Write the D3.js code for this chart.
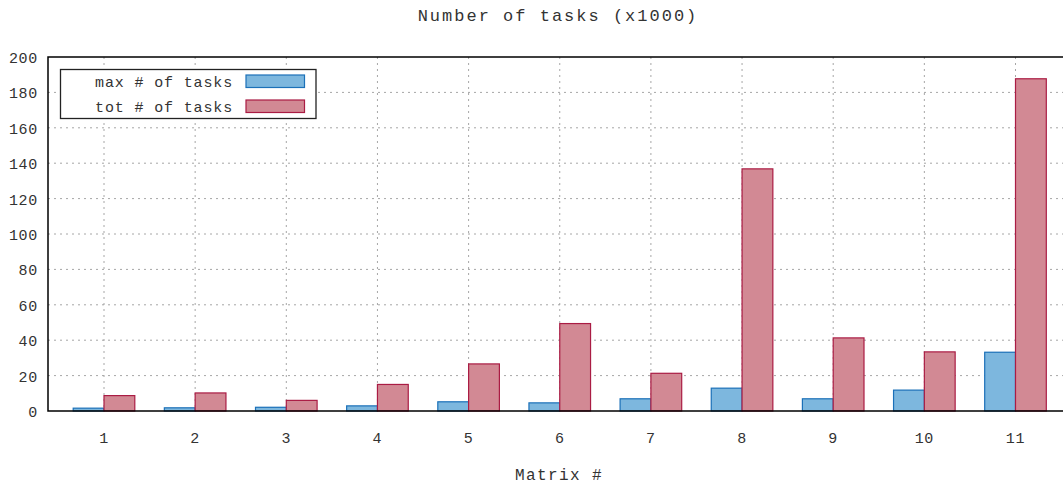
<!DOCTYPE html>
<html>
<head>
<meta charset="utf-8">
<script src="https://cdn.jsdelivr.net/npm/d3@7"></script>
<style>
  body { margin: 0; background: #fff; }
  svg text { font-family: "Liberation Mono", "Courier New", monospace; fill: #333; }
</style>
</head>
<body>
<div id="chart"></div>
<script>
const matrices = [1, 2, 3, 4, 5, 6, 7, 8, 9, 10, 11];
const maxTasks = [1.6, 1.8, 2.1, 2.9, 5.2, 4.6, 6.9, 12.9, 6.9, 11.8, 33.2];
const totTasks = [8.7, 10.2, 6.0, 15.0, 26.6, 49.4, 21.3, 136.8, 41.3, 33.4, 187.7];
const yTicks = [0, 20, 40, 60, 80, 100, 120, 140, 160, 180, 200];
const seriesNames = ["max # of tasks", "tot # of tasks"];

const W = 1063, H = 486;
const plotLeft = 48, plotTop = 57, plotBottom = 411;

const COLORS = {
  blue: { fill: "#7db7de", stroke: "#1b70b8" },
  red:  { fill: "#d28994", stroke: "#aa1c44" }
};

const svg = d3.select("#chart").append("svg")
  .attr("width", W).attr("height", H);

const x = d3.scaleLinear().domain([1, 11]).range([104, 1015.5]);
const y = d3.scaleLinear().domain([0, 200]).range([plotBottom, plotTop]);
const barW = 30.8;

// grid
const grid = svg.append("g").attr("stroke", "#a6a6a6").attr("stroke-width", 1)
  .attr("stroke-dasharray", "2,4");
grid.selectAll("line.h").data(yTicks.filter(d => d > 0 && d < 200)).enter().append("line")
  .attr("x1", plotLeft).attr("x2", W).attr("y1", d => y(d)).attr("y2", d => y(d));
grid.selectAll("line.v").data(matrices).enter().append("line")
  .attr("x1", d => x(d)).attr("x2", d => x(d)).attr("y1", plotTop).attr("y2", plotBottom);

// bars
const bars = svg.append("g");
bars.selectAll("rect.max").data(matrices).enter().append("rect")
  .attr("x", d => x(d) - barW).attr("width", barW)
  .attr("y", (d, i) => y(maxTasks[i])).attr("height", (d, i) => y(0) - y(maxTasks[i]))
  .attr("fill", COLORS.blue.fill).attr("stroke", COLORS.blue.stroke).attr("stroke-width", 1.2);
bars.selectAll("rect.tot").data(matrices).enter().append("rect")
  .attr("x", d => x(d)).attr("width", barW)
  .attr("y", (d, i) => y(totTasks[i])).attr("height", (d, i) => y(0) - y(totTasks[i]))
  .attr("fill", COLORS.red.fill).attr("stroke", COLORS.red.stroke).attr("stroke-width", 1.2);

// frame
svg.append("path")
  .attr("d", `M${W},${plotTop}H${plotLeft}V${plotBottom}H${W}`)
  .attr("fill", "none").attr("stroke", "#000").attr("stroke-width", 1.5);

// y tick labels
svg.append("g").selectAll("text").data(yTicks).enter().append("text")
  .attr("x", 38).attr("y", d => y(d) + 6)
  .attr("text-anchor", "end")
  .style("font-size", "15px").style("letter-spacing", "0.7px")
  .text(d => d);

// x tick labels
svg.append("g").selectAll("text").data(matrices).enter().append("text")
  .attr("x", d => x(d)).attr("y", 443)
  .attr("text-anchor", "middle")
  .style("font-size", "15px").style("letter-spacing", "0.7px")
  .text(d => d);

// title and axis label
svg.append("text").attr("x", 558).attr("y", 21).attr("text-anchor", "middle")
  .style("font-size", "17px").style("letter-spacing", "2px")
  .text("Number of tasks (x1000)");
svg.append("text").attr("x", 559).attr("y", 480).attr("text-anchor", "middle")
  .style("font-size", "16px").style("letter-spacing", "1.4px")
  .text("Matrix #");

// legend
const legend = svg.append("g");
legend.append("rect").attr("x", 60.5).attr("y", 69.5).attr("width", 255.5).attr("height", 49)
  .attr("fill", "#fff").attr("stroke", "#222").attr("stroke-width", 1.3);
const legendColors = [COLORS.blue, COLORS.red];
seriesNames.forEach((name, i) => {
  const cy = 81.5 + i * 25;
  legend.append("text").attr("x", 233).attr("y", cy + 5.5).attr("text-anchor", "end")
    .style("font-size", "15px").style("letter-spacing", "0.85px")
    .text(name);
  legend.append("rect").attr("x", 246).attr("y", cy - 6.5).attr("width", 58.5).attr("height", 12.5)
    .attr("fill", legendColors[i].fill).attr("stroke", legendColors[i].stroke).attr("stroke-width", 1.2);
});
</script>
</body>
</html>
